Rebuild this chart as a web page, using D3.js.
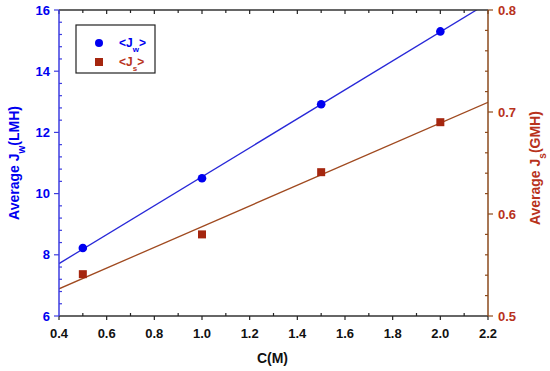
<html>
<head>
<title>Average flux vs C</title>
<script src="https://d3js.org/d3.v7.min.js"></script>
<style>
    body { margin: 0; background: #fff; }
    text { font-family: "Liberation Sans", Arial, sans-serif; font-weight: bold; }
</style>
</head>

<body>
    <div id="chart"></div>

    <script type="text/javascript">
        // data
        var conc = [0.5, 1.0, 1.5, 2.0];
        var jw = [8.22, 10.5, 12.92, 15.3];
        var js = [0.541, 0.58, 0.641, 0.69];

        var xTicks = [0.4, 0.6, 0.8, 1.0, 1.2, 1.4, 1.6, 1.8, 2.0, 2.2];
        var yLeftTicks = [6, 8, 10, 12, 14, 16];
        var yRightTicks = [0.5, 0.6, 0.7, 0.8];

        var blue = "#0000f0";
        var blueAxis = "#3c3ce0";
        var red = "#a5260f";
        var brown = "#8b4a1c";
        var redText = "#b8321c";

        var margin = {top: 10, right: 62, bottom: 55, left: 59};
        var width = 550 - margin.left - margin.right;
        var height = 371 - margin.top - margin.bottom;

        var x = d3.scaleLinear().domain([0.4, 2.2]).range([0, width]);
        var yL = d3.scaleLinear().domain([6, 16]).range([height, 0]);
        var yR = d3.scaleLinear().domain([0.5, 0.8]).range([height, 0]);

        var svg = d3.select("#chart").append("svg")
            .attr("width", 550)
            .attr("height", 371)
            .append("g")
            .attr("transform", "translate(" + margin.left + "," + margin.top + ")");

        svg.append("clipPath").attr("id", "clip")
            .append("rect").attr("width", width).attr("height", height);

        // least squares fit through the points
        function fit(xs, ys) {
            var mx = d3.mean(xs), my = d3.mean(ys);
            var sxy = 0, sxx = 0;
            xs.forEach(function(v, i) {
                sxy += (v - mx) * (ys[i] - my);
                sxx += (v - mx) * (v - mx);
            });
            var b = sxy / sxx;
            return function(v) { return my + b * (v - mx); };
        }
        var fitW = fit(conc, jw);
        var fitS = fit(conc, js);

        var ends = x.domain();

        svg.append("line")
            .attr("clip-path", "url(#clip)")
            .attr("x1", x(ends[0])).attr("y1", yL(fitW(ends[0])))
            .attr("x2", x(ends[1])).attr("y2", yL(fitW(ends[1])))
            .attr("stroke", "#2828d8").attr("stroke-width", 1.3);

        svg.append("line")
            .attr("clip-path", "url(#clip)")
            .attr("x1", x(ends[0])).attr("y1", yR(fitS(ends[0])))
            .attr("x2", x(ends[1])).attr("y2", yR(fitS(ends[1])))
            .attr("stroke", "#a04a20").attr("stroke-width", 1.3);

        // points
        svg.selectAll("circle.jw")
            .data(conc)
            .enter()
            .append("circle")
            .attr("class", "jw")
            .attr("r", 4.3)
            .attr("cx", function(d) { return x(d); })
            .attr("cy", function(d, i) { return yL(jw[i]); })
            .style("fill", blue);

        svg.selectAll("rect.js")
            .data(conc)
            .enter()
            .append("rect")
            .attr("class", "js")
            .attr("width", 8).attr("height", 8)
            .attr("x", function(d) { return x(d) - 4; })
            .attr("y", function(d, i) { return yR(js[i]) - 4; })
            .style("fill", red);

        // axes: major ticks outside, minor ticks inside
        function ticksX(g, vals, y0, dir, len) {
            g.selectAll(null).data(vals).enter().append("line")
                .attr("x1", function(d) { return x(d); })
                .attr("x2", function(d) { return x(d); })
                .attr("y1", y0).attr("y2", y0 + dir * len)
                .attr("stroke", "#222").attr("stroke-width", 1.2);
        }
        var xMinor = d3.range(0.5, 2.2, 0.2);

        var gBottom = svg.append("g");
        gBottom.append("line").attr("x1", 0).attr("x2", width)
            .attr("y1", height).attr("y2", height)
            .attr("stroke", "#333").attr("stroke-width", 1.5);
        ticksX(gBottom, xTicks, height, 1, 4);
        ticksX(gBottom, xMinor, height, -1, 3);
        gBottom.selectAll("text").data(xTicks).enter().append("text")
            .attr("x", function(d) { return x(d); })
            .attr("y", height + 22)
            .attr("text-anchor", "middle")
            .style("font-size", "13px")
            .attr("fill", "#111")
            .text(function(d) { return d3.format(".1f")(d); });

        var gTop = svg.append("g");
        gTop.append("line").attr("x1", 0).attr("x2", width)
            .attr("y1", 0).attr("y2", 0)
            .attr("stroke", "#333").attr("stroke-width", 1.5);
        ticksX(gTop, xTicks, 0, 1, 4);
        ticksX(gTop, xMinor, 0, 1, 3);

        // left axis
        var gLeft = svg.append("g");
        gLeft.append("line").attr("x1", 0).attr("x2", 0)
            .attr("y1", 0).attr("y2", height)
            .attr("stroke", blueAxis).attr("stroke-width", 1.5);
        gLeft.selectAll(null).data(yLeftTicks).enter().append("line")
            .attr("x1", -5).attr("x2", 0)
            .attr("y1", function(d) { return yL(d); })
            .attr("y2", function(d) { return yL(d); })
            .attr("stroke", blueAxis).attr("stroke-width", 1.2);
        gLeft.selectAll(null).data(d3.range(6.4, 16, 0.4).filter(function(d) { return Math.abs(d / 2 - Math.round(d / 2)) > 0.01; }))
            .enter().append("line")
            .attr("x1", 0).attr("x2", 3)
            .attr("y1", function(d) { return yL(d); })
            .attr("y2", function(d) { return yL(d); })
            .attr("stroke", blueAxis).attr("stroke-width", 1.2);
        gLeft.selectAll("text").data(yLeftTicks).enter().append("text")
            .attr("x", -9)
            .attr("y", function(d) { return yL(d); })
            .attr("dy", "0.35em")
            .attr("text-anchor", "end")
            .style("font-size", "13px")
            .attr("fill", blue)
            .text(function(d) { return d; });

        // right axis
        var gRight = svg.append("g").attr("transform", "translate(" + width + ",0)");
        gRight.append("line").attr("x1", 0).attr("x2", 0)
            .attr("y1", 0).attr("y2", height)
            .attr("stroke", brown).attr("stroke-width", 1.5);
        gRight.selectAll(null).data(yRightTicks).enter().append("line")
            .attr("x1", 0).attr("x2", 5)
            .attr("y1", function(d) { return yR(d); })
            .attr("y2", function(d) { return yR(d); })
            .attr("stroke", brown).attr("stroke-width", 1.2);
        gRight.selectAll(null).data(d3.range(0.52, 0.8, 0.02).filter(function(d) { return Math.abs(d * 10 - Math.round(d * 10)) > 0.01; }))
            .enter().append("line")
            .attr("x1", -3).attr("x2", 0)
            .attr("y1", function(d) { return yR(d); })
            .attr("y2", function(d) { return yR(d); })
            .attr("stroke", brown).attr("stroke-width", 1.2);
        gRight.selectAll("text").data(yRightTicks).enter().append("text")
            .attr("x", 10)
            .attr("y", function(d) { return yR(d); })
            .attr("dy", "0.35em")
            .style("font-size", "13px")
            .attr("fill", redText)
            .text(function(d) { return d3.format(".1f")(d); });

        // axis titles
        svg.append("text")
            .attr("x", width / 2 - 1)
            .attr("y", height + 47)
            .attr("text-anchor", "middle")
            .style("font-size", "14px")
            .attr("fill", "#111")
            .text("C(M)");

        var lt = svg.append("text")
            .attr("transform", "translate(" + (-40) + "," + (yL(11)) + ") rotate(-90)")
            .attr("text-anchor", "middle")
            .style("font-size", "14px")
            .attr("fill", blue);
        lt.append("tspan").text("Average J");
        lt.append("tspan").attr("baseline-shift", "sub").style("font-size", "10px").text("w");
        lt.append("tspan").text("(LMH)");

        var rt = svg.append("text")
            .attr("transform", "translate(" + (width + 52) + "," + (yR(0.645)) + ") rotate(-90)")
            .attr("text-anchor", "middle")
            .style("font-size", "14px")
            .attr("fill", redText);
        rt.append("tspan").text("Average J");
        rt.append("tspan").attr("baseline-shift", "sub").style("font-size", "10px").text("s");
        rt.append("tspan").text("(GMH)");

        // legend
        var legend = svg.append("g").attr("transform", "translate(17,15)");
        legend.append("rect")
            .attr("width", 79).attr("height", 48)
            .attr("fill", "#fff").attr("stroke", "#222").attr("stroke-width", 1.2);
        legend.append("circle").attr("cx", 23).attr("cy", 18).attr("r", 4).style("fill", blue);
        legend.append("rect").attr("x", 19).attr("y", 33).attr("width", 8).attr("height", 8).style("fill", red);

        var l1 = legend.append("text").attr("x", 43).attr("y", 22)
            .style("font-size", "12px").attr("fill", blue);
        l1.append("tspan").text("<J");
        l1.append("tspan").attr("baseline-shift", "sub").style("font-size", "8px").text("w");
        l1.append("tspan").text(">");

        var l2 = legend.append("text").attr("x", 43).attr("y", 41)
            .style("font-size", "12px").attr("fill", redText);
        l2.append("tspan").text("<J");
        l2.append("tspan").attr("baseline-shift", "sub").style("font-size", "8px").text("s");
        l2.append("tspan").text(">");
    </script>
</body>
</html>
